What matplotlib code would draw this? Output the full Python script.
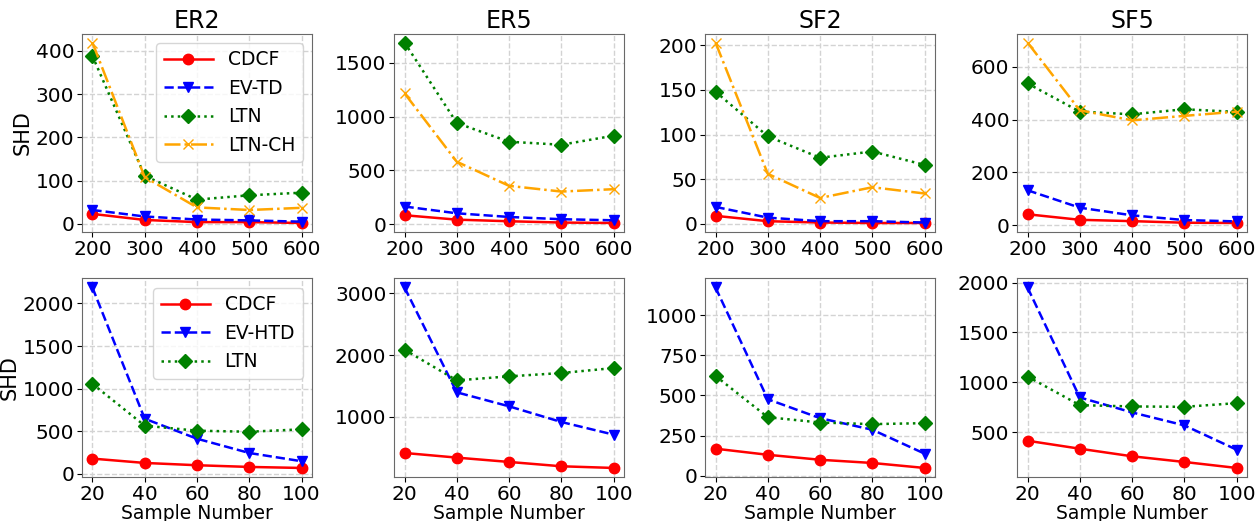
import numpy as np
import matplotlib
matplotlib.use("Agg")
from matplotlib import pyplot as plt

# top row: sample numbers 200..600
x_top = [200, 300, 400, 500, 600]
top_titles = ["ER2", "ER5", "SF2", "SF5"]
top_names = ["CDCF", "EV-TD", "LTN", "LTN-CH"]

cdcf_top = [[23, 9, 4, 4, 2], [84, 43, 28, 16, 12], [9, 3, 1.5, 1, 1], [41, 20, 15, 9, 8]]
evtd_top = [[32, 17, 10, 8, 5], [165, 102, 68, 47, 37], [19, 7, 3, 3, 1.5], [132, 66, 37, 19, 14]]
ltn_top = [[388, 111, 56, 66, 72], [1689, 941, 767, 739, 823], [148, 98, 74, 81, 66], [537, 430, 420, 439, 429]]
ltnch_top = [[419, 108, 38, 32, 37], [1217, 581, 357, 304, 326], [203, 56, 29, 41, 34], [692, 435, 397, 414, 430]]
top_yticks = [[0, 100, 200, 300, 400], [0, 500, 1000, 1500], [0, 50, 100, 150, 200], [0, 200, 400, 600]]

# bottom row: sample numbers 20..100
x_bot = [20, 40, 60, 80, 100]
bot_names = ["CDCF", "EV-HTD", "LTN"]

cdcf_bot = [[176, 125, 98, 78, 66], [419, 344, 274, 204, 177], [168, 130, 99, 79, 48], [413, 333, 257, 200, 140]]
evhtd_bot = [[2188, 645, 410, 242, 145], [3091, 1398, 1172, 919, 715], [1172, 476, 358, 286, 137], [1950, 847, 697, 567, 323]]
ltn_bot = [[1055, 563, 504, 492, 520], [2086, 1591, 1656, 1710, 1790], [621, 364, 331, 321, 327], [1057, 770, 757, 753, 790]]
bot_yticks = [[0, 500, 1000, 1500, 2000], [1000, 2000, 3000], [0, 250, 500, 750, 1000], [500, 1000, 1500, 2000]]

styles = [
    dict(color="red", linestyle="-", marker="o"),
    dict(color="blue", linestyle="--", marker="v"),
    dict(color="green", linestyle=":", marker="D"),
    dict(color="orange", linestyle="-.", marker="x"),
]

FS = 14.5
LFS = 13.5
fig = plt.figure(figsize=(12.55, 5.21), dpi=100)

lefts = [0.0653, 0.3140, 0.5618, 0.8104]
W = 0.1833
H = 0.381


def style_ax(ax):
    ax.grid(True, linestyle="--", color="lightgray", linewidth=1)
    ax.set_axisbelow(True)
    ax.tick_params(labelsize=FS, pad=2)
    for s in ax.spines.values():
        s.set_color("dimgray")


for i in range(4):
    ax = fig.add_axes([lefts[i], 0.5547, W, H])
    series = [cdcf_top[i], evtd_top[i], ltn_top[i], ltnch_top[i]]
    for name, ys, st in zip(top_names, series, styles):
        ax.plot(x_top, ys, label=name, linewidth=1.8, markersize=7.5, **st)
    ax.set_xticks(x_top)
    ax.set_yticks(top_yticks[i])
    ax.set_title(top_titles[i], fontsize=17, pad=4)
    style_ax(ax)
    if i == 0:
        ax.set_ylabel("SHD", fontsize=15, labelpad=2)
        ax.legend(fontsize=LFS, loc="upper right", handlelength=2.6)

for i in range(4):
    ax = fig.add_axes([lefts[i], 0.0845, W, H])
    series = [cdcf_bot[i], evhtd_bot[i], ltn_bot[i]]
    for name, ys, st in zip(bot_names, series, styles):
        ax.plot(x_bot, ys, label=name, linewidth=1.8, markersize=7.5, **st)
    ax.set_xticks(x_bot)
    ax.set_yticks(bot_yticks[i])
    ax.set_xlabel("Sample Number", fontsize=LFS, labelpad=0)
    style_ax(ax)
    if i == 0:
        ax.set_ylabel("SHD", fontsize=15, labelpad=2)
        ax.legend(fontsize=LFS, loc="upper right", handlelength=2.6)

fig.savefig("out.png", dpi=100)
